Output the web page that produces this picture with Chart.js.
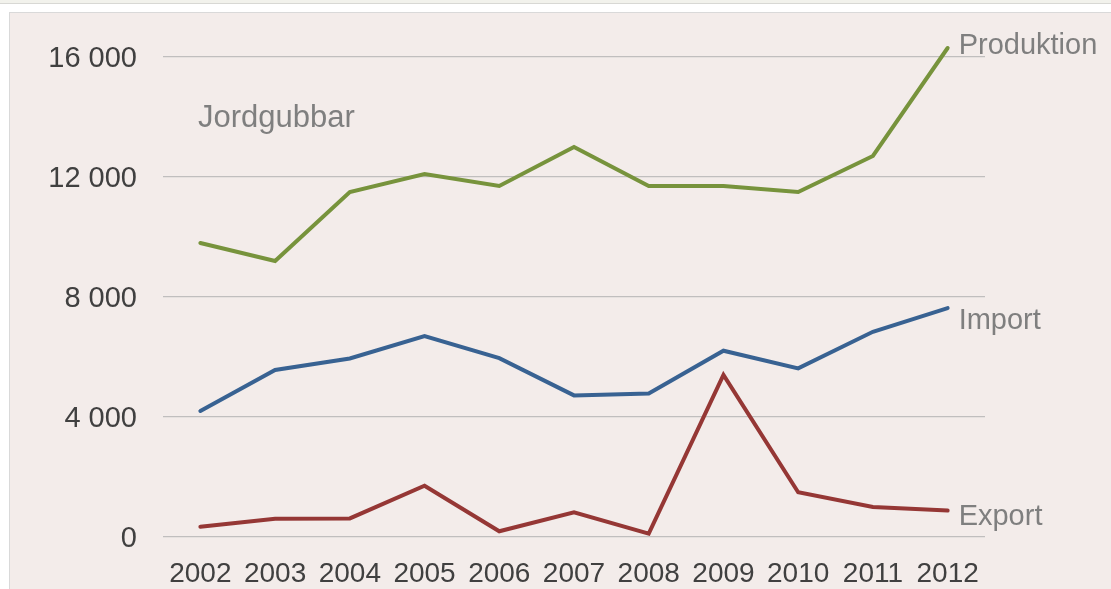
<!DOCTYPE html>
<html>
<head>
<meta charset="utf-8">
<script src="https://cdn.jsdelivr.net/npm/chart.js@4"></script>
<style>
  html, body { margin: 0; padding: 0; width: 1111px; height: 589px; overflow: hidden; background: #ffffff; }
  #strip { position: absolute; left: 0; top: 0; width: 1111px; height: 3px; background: #F2F2EC; border-bottom: 1px solid #D8D8D4; }
  #panel { position: absolute; left: 9px; top: 12px; width: 1120px; height: 600px; background: #F3ECEA; border: 1px solid #D9D9D9; }
  #wrap { position: absolute; left: 0; top: 0; width: 1111px; height: 589px; }
</style>
</head>
<body>
<div id="strip"></div>
<div id="panel"></div>
<div id="wrap"><canvas id="c" width="1111" height="589"></canvas></div>
<script>
const years = ['2002','2003','2004','2005','2006','2007','2008','2009','2010','2011','2012'];
const produktion = [9800, 9200, 11500, 12100, 11700, 13000, 11700, 11700, 11500, 12700, 16300];
const importData = [4200, 5570, 5950, 6700, 5960, 4720, 4780, 6210, 5620, 6840, 7630];
const exportData = [340, 610, 620, 1710, 190, 820, 110, 5400, 1490, 1000, 880];
const yTicks = [0, 4000, 8000, 12000, 16000];
const seriesNames = ['Produktion', 'Import', 'Export'];
const chartTitle = 'Jordgubbar';

const FONT = '"Liberation Sans", Arial, sans-serif';

const labelPlugin = {
  id: 'labels',
  afterDatasetsDraw(chart) {
    const ctx = chart.ctx;
    const xs = chart.scales.x, ys = chart.scales.y;
    const offsets = [-2, 13, 6];
    ctx.save();
    ctx.font = '29px ' + FONT;
    ctx.fillStyle = '#7F7F7F';
    ctx.textAlign = 'left';
    ctx.textBaseline = 'middle';
    chart.data.datasets.forEach((ds, i) => {
      const n = ds.data.length - 1;
      const x = xs.getPixelForValue(n) + 11;
      const y = ys.getPixelForValue(ds.data[n]) + offsets[i];
      ctx.fillText(ds.label, x, y);
    });
    ctx.font = '31px ' + FONT;
    ctx.textBaseline = 'alphabetic';
    ctx.fillText(chartTitle, chart.chartArea.left + 35, chart.chartArea.top + 70);
    ctx.restore();
  }
};

new Chart(document.getElementById('c'), {
  type: 'line',
  data: {
    labels: years,
    datasets: [
      { label: seriesNames[0], data: produktion, borderColor: '#77933C' },
      { label: seriesNames[1], data: importData, borderColor: '#386292' },
      { label: seriesNames[2], data: exportData, borderColor: '#953735' }
    ].map(d => Object.assign(d, {
      borderWidth: 4, pointRadius: 0, pointHoverRadius: 0, tension: 0,
      fill: false, clip: false, borderCapStyle: 'round', borderJoinStyle: 'miter'
    }))
  },
  options: {
    responsive: false,
    animation: false,
    events: [],
    layout: { padding: { left: 0, right: 126, top: 57, bottom: 0 } },
    plugins: { legend: { display: false }, tooltip: { enabled: false }, title: { display: false } },
    scales: {
      x: {
        offset: true,
        grid: { display: false, drawTicks: false },
        border: { display: false },
        ticks: { font: { family: FONT, size: 28 }, color: '#404040', padding: 20, maxRotation: 0, autoSkip: false },
        afterFit(s) { s.height = 52; }
      },
      y: {
        min: 0, max: 16000,
        afterBuildTicks(s) { s.ticks = yTicks.map(v => ({ value: v })); },
        grid: { color: '#C0BEBE', lineWidth: 1.3, drawTicks: false },
        border: { display: false },
        ticks: {
          font: { family: FONT, size: 29 }, color: '#404040', padding: 26, labelOffset: 2,
          callback: v => v === 0 ? '0' : String(v).replace(/\B(?=(\d{3})+(?!\d))/g, ' ')
        },
        afterFit(s) { s.width = 163; }
      }
    }
  },
  plugins: [labelPlugin]
});
</script>
</body>
</html>
